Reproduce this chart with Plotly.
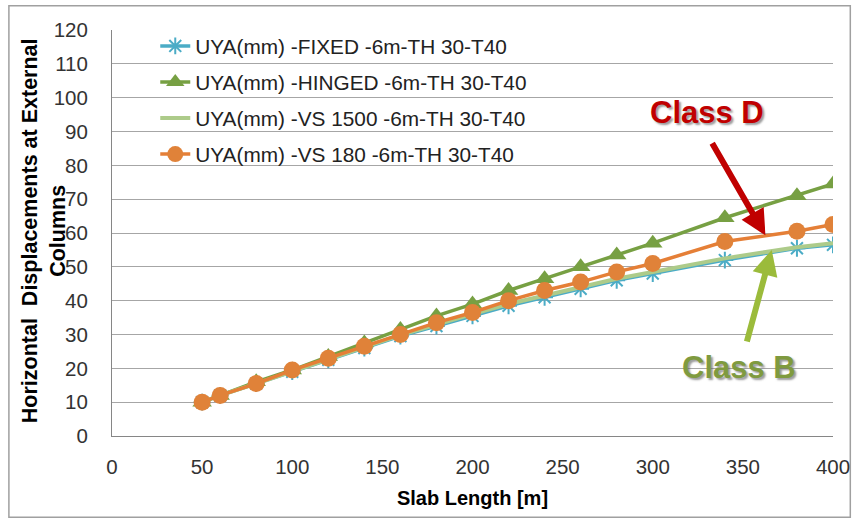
import plotly.graph_objects as go

slab_length = [50, 60, 80, 100, 120, 140, 160, 180, 200, 220, 240, 260, 280, 300, 340, 380, 400]
uya_fixed = [10, 12, 15.5, 19, 22.5, 26, 29.5, 32.5, 35.5, 38.5, 41, 43.5, 46, 48, 52, 55.5, 56.5]
uya_hinged = [10, 12, 16, 19.5, 23.5, 27.5, 31.5, 35.5, 39, 43, 46.5, 50, 53.5, 57, 64.5, 71, 74.5]
uya_vs1500 = [10, 12, 15.5, 19.2, 22.8, 26.3, 29.8, 33, 36, 39, 41.5, 44, 46.5, 48.5, 52.5, 55.8, 57]
uya_vs180 = [10, 12, 15.5, 19.5, 23, 26.5, 30, 33.5, 36.5, 40, 43, 45.5, 48.5, 51, 57.5, 60.5, 62.5]

names = ["UYA(mm) -FIXED -6m-TH 30-T40", "UYA(mm) -HINGED -6m-TH 30-T40",
         "UYA(mm) -VS 1500 -6m-TH 30-T40", "UYA(mm) -VS 180 -6m-TH 30-T40"]
x_ticks = [0, 50, 100, 150, 200, 250, 300, 350, 400]
y_ticks = list(range(0, 121, 10))

fig = go.Figure()
fig.add_trace(go.Scatter(x=slab_length, y=uya_fixed, name=names[0], mode="lines+markers",
                         legendgroup="a",
                         line=dict(color="#4BACC6", width=3.5),
                         marker=dict(symbol="asterisk-open", size=14, color="#4BACC6",
                                     line=dict(color="#4BACC6", width=2))))
fig.add_trace(go.Scatter(x=slab_length, y=uya_hinged, name=names[1], mode="lines+markers",
                         legendgroup="b",
                         line=dict(color="#77A043", width=3.5),
                         marker=dict(symbol="triangle-up", size=17, color="#77A043")))
fig.add_trace(go.Scatter(x=slab_length, y=uya_vs1500, name=names[2], mode="lines",
                         legendgroup="c",
                         line=dict(color="#ADCB8A", width=4)))
fig.add_trace(go.Scatter(x=slab_length, y=uya_vs180, name=names[3], mode="lines+markers",
                         legendgroup="d",
                         line=dict(color="#E57F37", width=3.5),
                         marker=dict(symbol="circle", size=17, color="#E08239")))

font_fam = "Liberation Sans, Arial, sans-serif"

fig.add_annotation(x=330, y=95.5, text="<b>Class D</b>", showarrow=False,
                   font=dict(family=font_fam, size=31, color="#C00000",
                             shadow="2px 2px 2px rgba(90,90,90,0.6)"))
fig.add_annotation(x=348, y=20.3, text="<b>Class B</b>", showarrow=False,
                   font=dict(family=font_fam, size=31, color="#7F9A3F",
                             shadow="2px 2px 2px rgba(90,90,90,0.6)"))

fig.add_annotation(x=362.5, y=59.3, ax=332.5, ay=87, xref="x", yref="y", axref="x", ayref="y",
                   text="", showarrow=True, arrowhead=2, arrowsize=0.85, arrowwidth=6,
                   arrowcolor="#C00000", standoff=0)
fig.add_annotation(x=366, y=55, ax=352, ay=27.5, xref="x", yref="y", axref="x", ayref="y",
                   text="", showarrow=True, arrowhead=2, arrowsize=0.85, arrowwidth=6,
                   arrowcolor="#9BBB3B", standoff=0)

fig.add_annotation(x=-0.094, y=0.505, xref="paper", yref="paper", xanchor="center", yanchor="middle",
                   text="<b>Horizontal  Displacements at External<br>Columns</b>",
                   textangle=-90, showarrow=False,
                   font=dict(family=font_fam, size=21.5, color="#000000"))

fig.update_layout(
    width=862, height=521,
    margin=dict(l=112, r=22, t=30, b=85),
    paper_bgcolor="white", plot_bgcolor="white",
    font=dict(family=font_fam, size=20.5, color="#333333"),
    showlegend=True,
    legend=dict(x=0.06, y=1.01, xanchor="left", yanchor="top",
                bgcolor="rgba(0,0,0,0)", tracegroupgap=6,
                font=dict(family=font_fam, size=20.8, color="#222222")),
    xaxis=dict(range=[0, 400], tickvals=x_ticks, showgrid=False, showline=True,
               linecolor="#868686", linewidth=1, ticks="", zeroline=False,
               ticklabelstandoff=12, ticklabeloverflow="allow",
               title=dict(text="<b>Slab Length [m]</b>", standoff=14,
                          font=dict(family=font_fam, size=20, color="#000000"))),
    yaxis=dict(range=[0, 120], tickvals=y_ticks, showgrid=True, gridcolor="#A6A6A6",
               gridwidth=1, showline=True, linecolor="#868686", linewidth=1,
               ticks="", zeroline=False, ticklabelstandoff=19),
    shapes=[dict(type="rect", xref="paper", yref="paper", x0=-0.143, x1=1.024,
                 y0=-0.2, y1=1.06, line=dict(color="#A0A0A0", width=1.5), layer="below")],
)

fig.write_html("out.html")
